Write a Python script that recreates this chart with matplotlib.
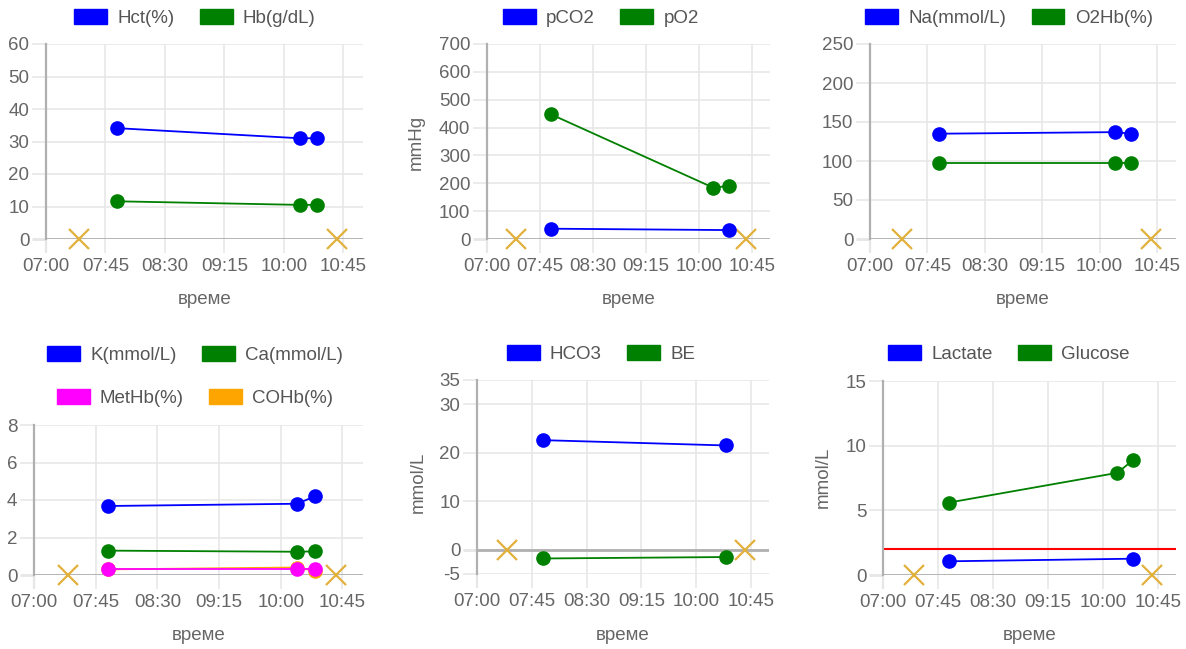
import matplotlib
matplotlib.use("Agg")
import matplotlib.pyplot as plt
from matplotlib.patches import Patch
from matplotlib.ticker import FixedLocator, FuncFormatter

plt.rcParams['font.family'] = ['Liberation Sans', 'DejaVu Sans']

# ---------------- data ----------------
times3 = ["07:54", "10:12", "10:25"]
times2 = ["07:54", "10:25"]
bound_times = ["07:25", "10:40"]
bound_vals = [0, 0]

hct = [34.1, 31.0, 31.0]
hb = [11.6, 10.5, 10.5]

pco2 = [37, 32]
po2 = [448, 184, 191]

na = [135, 137, 135]
o2hb = [98, 98, 98]

k = [3.68, 3.8, 4.2]
ca = [1.30, 1.24, 1.26]
methb = [0.32, 0.32, 0.32]
cohb = [0.30, 0.40, 0.22]

hco3 = [22.6, 21.5]
be = [-1.8, -1.5]

lactate = [1.06, 1.26]
glucose = [5.6, 7.9, 8.9]
lactate_limit = 2.0

x_ticks = ["07:00", "07:45", "08:30", "09:15", "10:00", "10:45"]
x_range = ["07:00", "11:00"]
x_label = "време"

BLUE, GREEN, MAGENTA, ORANGE = "#0000ff", "#008000", "#ff00ff", "#ffa500"
XCOL = "#e2b13c"
GRID = "#e6e6e6"
AX = "#b0b0b0"
TXT = "#666666"
FS = 13.5


def tmin(s):
    h, m = s.split(":")
    return int(h) * 60 + int(m)


W, H = 1186, 649
fig = plt.figure(figsize=(W / 100, H / 100), dpi=100)


def make_ax(l, r, t, b):
    return fig.add_axes([l / W, 1 - b / H, (r - l) / W, (b - t) / H])


def style(ax, yticks):
    ax.set_xlim(tmin(x_range[0]), tmin(x_range[1]))
    ax.set_ylim(yticks[0], yticks[-1])
    ax.xaxis.set_major_locator(FixedLocator([tmin(s) for s in x_ticks]))
    ax.xaxis.set_major_formatter(FuncFormatter(lambda v, p: "%02d:%02d" % (int(v) // 60, int(v) % 60)))
    ax.yaxis.set_major_locator(FixedLocator(yticks))
    ax.yaxis.set_major_formatter(FuncFormatter(lambda v, p: "%g" % v))
    for s in ["top", "right", "bottom"]:
        ax.spines[s].set_visible(False)
    ax.spines["left"].set_color(AX)
    ax.spines["left"].set_linewidth(1.6)
    ax.grid(True, color=GRID, lw=1.1, zorder=0)
    ax.set_axisbelow(True)
    ax.tick_params(axis="x", length=10, width=1.1, color=GRID, pad=4, labelsize=FS, labelcolor=TXT)
    ax.tick_params(axis="y", length=10, width=1.1, color=GRID, pad=2, labelsize=FS, labelcolor=TXT)
    # darker tick for the axis line (07:00) and the zero line
    fig.canvas.draw_idle()
    xt = ax.xaxis.get_major_ticks()
    xt[0].tick1line.set_color(AX)
    xt[0].tick1line.set_markeredgewidth(1.6)
    for t, v in zip(ax.yaxis.get_major_ticks(), yticks):
        if v == 0:
            t.tick1line.set_color(AX)
            t.tick1line.set_markeredgewidth(2)
    ax.axhline(0, color=AX, lw=2, zorder=1)
    ax.plot([tmin(s) for s in bound_times], bound_vals, linestyle="none", marker="x",
            markersize=15, mew=1.6, color=XCOL, clip_on=False, zorder=3)


def series(ax, times, vals, color, z):
    ax.plot([tmin(s) for s in times], vals, color=color, lw=1.3, marker="o",
            markersize=9.5, markeredgecolor=color, clip_on=False, zorder=z)


def legend(ax, labels, colors, cx, cy):
    handles = [Patch(facecolor=c, edgecolor=c, alpha=1.0) for c in colors]
    lg = ax.legend(handles, labels, loc="center", bbox_to_anchor=(cx / W, 1 - cy / H),
                   bbox_transform=fig.transFigure, ncol=len(labels), frameon=False,
                   fontsize=FS, handlelength=1.75, handleheight=0.9, handletextpad=0.55,
                   columnspacing=1.35, labelcolor="#555555", borderpad=0, borderaxespad=0)
    return lg


def xlabel(l, r, y):
    fig.text((l + r) / 2 / W, 1 - y / H, x_label, ha="center", va="center", fontsize=FS, color=TXT)


def ylabel(x, y, s):
    fig.text(x / W, 1 - y / H, s, ha="center", va="center", rotation=90, fontsize=FS, color=TXT)


# Panel 1
ax1 = make_ax(46, 363, 44, 239)
style(ax1, [0, 10, 20, 30, 40, 50, 60])
series(ax1, times3, hct, BLUE, 5)
series(ax1, times3, hb, GREEN, 4)
legend(ax1, ["Hct(%)", "Hb(g/dL)"], [BLUE, GREEN], 195, 18)
xlabel(46, 363, 299)

# Panel 2
ax2 = make_ax(487, 770, 44, 239)
style(ax2, [0, 100, 200, 300, 400, 500, 600, 700])
series(ax2, times2, pco2, BLUE, 5)
series(ax2, times3, po2, GREEN, 4)
legend(ax2, ["pCO2", "pO2"], [BLUE, GREEN], 601, 18)
xlabel(487, 770, 299)
ylabel(416, 142, "mmHg")

# Panel 3
ax3 = make_ax(870, 1176, 44, 239)
style(ax3, [0, 50, 100, 150, 200, 250])
series(ax3, times3, na, BLUE, 5)
series(ax3, times3, o2hb, GREEN, 4)
legend(ax3, ["Na(mmol/L)", "O2Hb(%)"], [BLUE, GREEN], 1009, 18)
xlabel(870, 1176, 299)

# Panel 4
ax4 = make_ax(34, 363, 425, 575)
style(ax4, [0, 2, 4, 6, 8])
series(ax4, times3, k, BLUE, 7)
series(ax4, times3, ca, GREEN, 6)
series(ax4, times3, methb, MAGENTA, 5)
series(ax4, times3, cohb, ORANGE, 4)
lg = legend(ax4, ["K(mmol/L)", "Ca(mmol/L)"], [BLUE, GREEN], 195, 355)
ax4.add_artist(lg)
legend(ax4, ["MetHb(%)", "COHb(%)"], [MAGENTA, ORANGE], 195, 398)
xlabel(34, 363, 635)

# Panel 5
ax5 = make_ax(477, 769, 380, 574)
style(ax5, [-5, 0, 10, 20, 30, 35])
series(ax5, times2, hco3, BLUE, 5)
series(ax5, times2, be, GREEN, 4)
legend(ax5, ["HCO3", "BE"], [BLUE, GREEN], 601, 354)
xlabel(477, 769, 635)
ylabel(418, 482, "mmol/L")

# Panel 6
ax6 = make_ax(883, 1176, 381, 575)
style(ax6, [0, 5, 10, 15])
ax6.axhline(lactate_limit, color="#ff0000", lw=1.5, zorder=2)
series(ax6, times2, lactate, BLUE, 5)
series(ax6, times3, glucose, GREEN, 4)
legend(ax6, ["Lactate", "Glucose"], [BLUE, GREEN], 1009, 354)
xlabel(883, 1176, 635)
ylabel(823, 477, "mmol/L")

fig.savefig("out.png", dpi=100, facecolor="white")
